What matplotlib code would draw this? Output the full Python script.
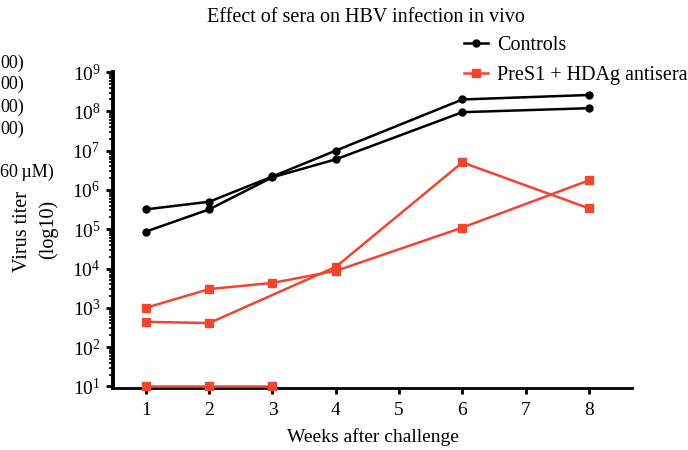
import numpy as np
import matplotlib
matplotlib.use('Agg')
import matplotlib.pyplot as plt
from matplotlib.ticker import LogLocator, FixedLocator

plt.rcParams['font.family'] = ['Liberation Serif', 'DejaVu Serif']
plt.rcParams['mathtext.fontset'] = 'cm'

# Datos
semanas_ctrl = [1, 2, 3, 4, 6, 8]
control_a = [3.2e5, 5.0e5, 2.2e6, 1.0e7, 2.0e8, 2.6e8]
control_b = [8.7e4, 3.2e5, 2.1e6, 6.0e6, 9.5e7, 1.2e8]

semanas_c = [1, 2, 3, 4, 6, 8]
antisera_c = [1.0e3, 3.0e3, 4.3e3, 8.7e3, 1.1e5, 1.75e6]
semanas_d = [1, 2, 4, 6, 8]
antisera_d = [440, 410, 1.1e4, 5.0e6, 3.4e5]
semanas_e = [1, 2, 3]
antisera_e = [10, 10, 10]

negro = '#000000'
rojo = '#f04530'

fig = plt.figure(figsize=(6.88, 4.5), dpi=100)
W, H = 688, 450
ax = fig.add_axes([113 / W, 1 - 388 / H, (632 - 113) / W, (388 - 72) / H])

kw_c = dict(color=negro, marker='o', markersize=5, linewidth=1.8, zorder=3)
kw_r = dict(color=rojo, marker='s', markersize=5.5, linewidth=1.8, zorder=3)
ax.plot(semanas_ctrl, control_a, label='Controls', **kw_c)
ax.plot(semanas_ctrl, control_b, **kw_c)
ax.plot(semanas_c, antisera_c, label='PreS1 + HDAg antisera', **kw_r)
ax.plot(semanas_d, antisera_d, **kw_r)
ax.plot(semanas_e, antisera_e, clip_on=False, **kw_r)

ax.set_yscale('log')
ax.set_xlim(0.48, 8.68)
ax.set_ylim(10 ** 0.96, 1e9)
ax.set_xticks(range(1, 9))
ax.yaxis.set_major_locator(FixedLocator([10.0 ** k for k in range(1, 10)]))
ax.yaxis.set_minor_locator(LogLocator(base=10, subs=np.arange(2, 10), numticks=20))

for s in ['top', 'right']:
    ax.spines[s].set_visible(False)
ax.spines['left'].set_linewidth(2.8)
ax.spines['bottom'].set_linewidth(2.0)
ax.tick_params(axis='x', which='major', direction='out', length=4, width=2, labelsize=14, pad=6)
ax.tick_params(axis='y', which='major', direction='out', length=5, width=2, labelsize=14, pad=4)
ax.tick_params(axis='y', which='minor', direction='out', length=3, width=1.2)

ax.set_xlabel('Weeks after challenge', fontsize=14, labelpad=7)
fig.text(23 / W, 1 - 232 / H, 'Virus titer', rotation=90, ha='center', va='center', fontsize=14.5)
fig.text(48 / W, 1 - 229 / H, '(log10)', rotation=90, ha='center', va='center', fontsize=14.5)
fig.text(366 / W, 1 - 18 / H, 'Effect of sera on HBV infection in vivo', ha='center', va='center', fontsize=14.5)

# restos de texto del panel vecino (lo que se ve en el borde izquierdo)
for yy in [63, 84, 107, 129]:
    fig.text(0, 1 - yy / H, '00)', ha='left', va='center', fontsize=13)
fig.text(0, 1 - 172 / H, '60\u2009\u00b5M)', ha='left', va='center', fontsize=13)

ax.legend(loc='upper left', bbox_to_anchor=(464 / W, 1 - 36 / H), bbox_transform=fig.transFigure,
          frameon=False, fontsize=14.5, handlelength=1.2, handletextpad=0.45, labelspacing=0.55,
          borderaxespad=0, borderpad=0)

fig.savefig('out.png', dpi=100)
